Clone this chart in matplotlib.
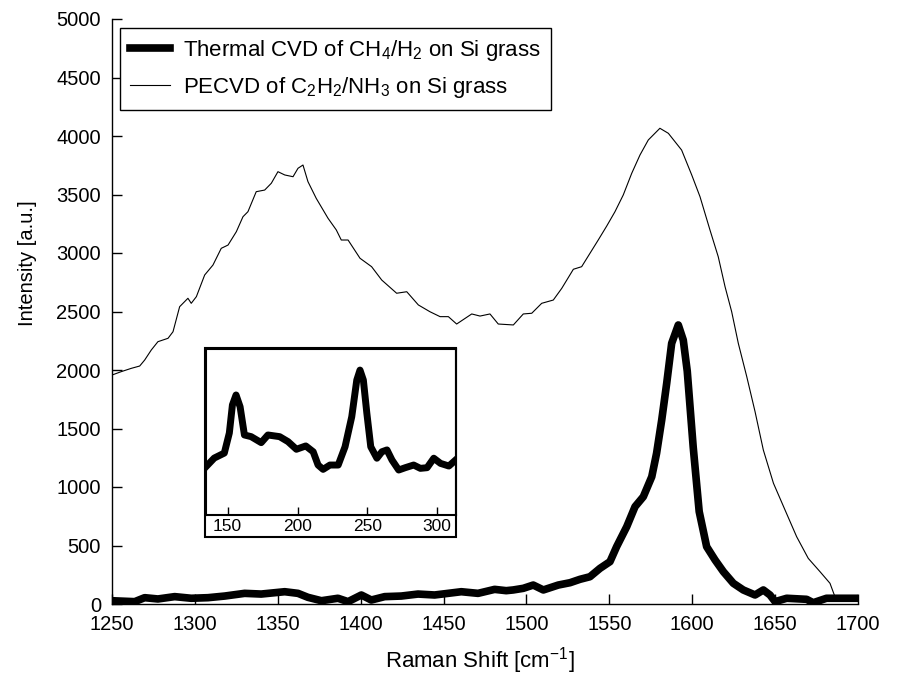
import matplotlib
matplotlib.use('Agg')
import matplotlib.pyplot as plt
from matplotlib.patches import Rectangle

plt.rcParams['font.family'] = ['Liberation Sans', 'DejaVu Sans']
plt.rcParams['mathtext.fontset'] = 'custom'
plt.rcParams['mathtext.rm'] = 'Liberation Sans'
plt.rcParams['mathtext.it'] = 'Liberation Sans'
plt.rcParams['mathtext.default'] = 'regular'

# PECVD of C2H2/NH3 (thin line)
pecvd_x = [1250, 1255.6, 1261.6, 1266.7, 1269.7, 1273.7, 1277.7, 1283.8, 1286.8,
           1290.8, 1295.8, 1297.8, 1300.9, 1305.9, 1310.9, 1315.9, 1320, 1325,
           1329, 1332, 1337, 1342.1, 1346.1, 1350.1, 1354.2, 1359.2, 1362.2,
           1365.2, 1368.2, 1373.2, 1380.3, 1385.3, 1388.3, 1392.4, 1399.6,
           1406.6, 1412.7, 1421.7, 1427.8, 1434.8, 1441.8, 1447.9, 1452.9,
           1457.9, 1467, 1472, 1478, 1483, 1492.1, 1498.1, 1503.2, 1509.2,
           1516.2, 1521.3, 1528.3, 1533.3, 1538.3, 1543.3, 1548.4, 1553.4,
           1558.4, 1563.5, 1568.5, 1573.5, 1580.5, 1585.6, 1593.6, 1599.7,
           1604.7, 1610.7, 1615.7, 1619.8, 1623.8, 1627.8, 1632.9, 1637.9,
           1642.9, 1649, 1656, 1663, 1670, 1677.1, 1683.1, 1686.1, 1688]
pecvd_y = [1957, 1986, 2014, 2034, 2085, 2171, 2242, 2271, 2327,
           2541, 2613, 2570, 2627, 2812, 2897, 3040, 3068, 3182,
           3310, 3353, 3524, 3538, 3596, 3695, 3667, 3652, 3724,
           3752, 3610, 3467, 3297, 3197, 3111, 3111, 2955,
           2883, 2769, 2656, 2669, 2556, 2498, 2456, 2456,
           2393, 2479, 2461, 2479, 2393, 2385, 2479, 2485, 2570,
           2598, 2698, 2861, 2883, 2997, 3111, 3230, 3353,
           3496, 3681, 3838, 3966, 4066, 4023, 3880, 3667,
           3481, 3197, 2968, 2712, 2498, 2228, 1943, 1644,
           1316, 1032, 803, 575, 390, 276, 177, 62, 45]

# Thermal CVD of CH4/H2 (thick line)
thermal_x = [1250, 1263.7, 1269.7, 1277.7, 1287.8, 1297.8, 1307.9, 1318, 1330,
             1340, 1354.2, 1362.2, 1368.2, 1376.3, 1386.3, 1392.4, 1400.4,
             1406.4, 1414.5, 1424.5, 1434.6, 1444.6, 1452.7, 1460.7, 1470.8,
             1480.8, 1487.8, 1492, 1498.1, 1504.1, 1510.2, 1519.2, 1526.3,
             1532.3, 1538.3, 1544.4, 1550.4, 1554.4, 1560.5, 1565.5, 1570.5,
             1575.6, 1578.5, 1581.6, 1584.6, 1587.6, 1591.6, 1594.6, 1597,
             1600.6, 1604.2, 1608.7, 1613.8, 1618.8, 1624.8, 1630.8, 1637.9,
             1642.9, 1646.9, 1650, 1657, 1669, 1673, 1681, 1691, 1700]
thermal_y = [28, 20, 54, 43, 63, 49, 54, 68, 91,
             85, 105, 91, 57, 28, 49, 20, 77,
             34, 63, 68, 85, 77, 91, 105, 91,
             125, 114, 120, 134, 162, 120, 162, 182,
             211, 233, 305, 362, 490, 661, 832, 917,
             1088, 1288, 1573, 1886, 2228, 2385, 2256, 1990,
             1340, 790, 490, 376, 276, 177, 120, 77,
             120, 77, 20, 49, 40, 11, 49, 49, 49]

# inset: low wavenumber region of the thermal CVD sample
inset_x = [134.5, 140.4, 147.6, 151.2, 153.4, 156.0, 158.9, 162.0, 166.8, 174.0,
           178.8, 187.2, 193.2, 199.2, 205.9, 211.2, 214.7, 218.3, 223.2, 229.1,
           234.0, 238.8, 242.4, 244.7, 247.1, 249.6, 252.4, 256.8, 260.4, 264.0,
           267.6, 272.4, 277.1, 283.1, 287.9, 292.7, 297.5, 302.3, 308.3, 313.1]
inset_y = [29.1, 34.3, 37.3, 49.4, 66.3, 72.3, 65.2, 48.2, 47.2, 43.6,
           48.2, 47.2, 44.2, 39.6, 41.6, 38.1, 30.1, 27.5, 30.1, 30.1,
           41.1, 59.2, 81.3, 87.3, 81.3, 61.3, 41.1, 34.2, 38.1, 39.2,
           33.1, 27.1, 28.5, 30.1, 28.1, 28.5, 34.2, 31.1, 29.5, 33.1]

labels = [r'Thermal CVD of CH$_4$/H$_2$ on Si grass',
          r'PECVD of C$_2$H$_2$/NH$_3$ on Si grass']

W, H = 897, 675
fig = plt.figure(figsize=(W / 100, H / 100), dpi=100)
ax = fig.add_axes([112 / W, 1 - 604 / H, 746 / W, 585 / H])

l1, = ax.plot(thermal_x, thermal_y, color='black', lw=5.5, solid_joinstyle='round')
l2, = ax.plot(pecvd_x, pecvd_y, color='black', lw=0.8)

ax.set_xlim(1250, 1700)
ax.set_ylim(0, 5000)
ax.set_xticks(range(1250, 1701, 50))
ax.set_yticks(range(0, 5001, 500))
ax.spines['top'].set_visible(False)
ax.spines['right'].set_visible(False)
for s in ('left', 'bottom'):
    ax.spines[s].set_linewidth(1.0)
ax.tick_params(direction='in', length=7, width=1.0, labelsize=14.5)
ax.tick_params(axis='y', pad=8)
ax.tick_params(axis='x', pad=8)

ax.set_xlabel(r'Raman Shift [cm$^{-1}$]', fontsize=16)
ax.set_ylabel('Intensity [a.u.]', fontsize=14.5)
ax.xaxis.set_label_coords(0.493, -0.07)
ax.yaxis.set_label_coords(-0.1, 0.583)

leg = ax.legend([l1, l2], labels, loc='upper left',
                bbox_to_anchor=(120 / W, 1 - 28 / H), bbox_transform=fig.transFigure,
                fontsize=16, frameon=True, fancybox=False, edgecolor='black',
                framealpha=1, borderaxespad=0, borderpad=0.45, handlelength=1.8,
                handletextpad=0.6, labelspacing=0.55)
leg.get_frame().set_linewidth(1.0)

# inset with frame around it and its tick labels
fig.patches.append(Rectangle((205 / W, 1 - 537 / H), 251 / W, 189 / H,
                             transform=fig.transFigure, fill=True,
                             facecolor='white', edgecolor='black', lw=1.5,
                             zorder=2))
axin = fig.add_axes([206 / W, 1 - 515 / H, 250 / W, 166 / H])
axin.set_zorder(3)
axin.patch.set_alpha(0)
axin.plot(inset_x, inset_y, color='black', lw=5, solid_joinstyle='round')
axin.set_xlim(134.5, 313.4)
axin.set_ylim(0, 100)
axin.set_xticks([150, 200, 250, 300])
axin.set_yticks([])
for s in axin.spines.values():
    s.set_linewidth(1.5)
axin.tick_params(direction='in', length=6, width=1.0, labelsize=12.5, pad=3)

fig.savefig('out.png', dpi=100)
